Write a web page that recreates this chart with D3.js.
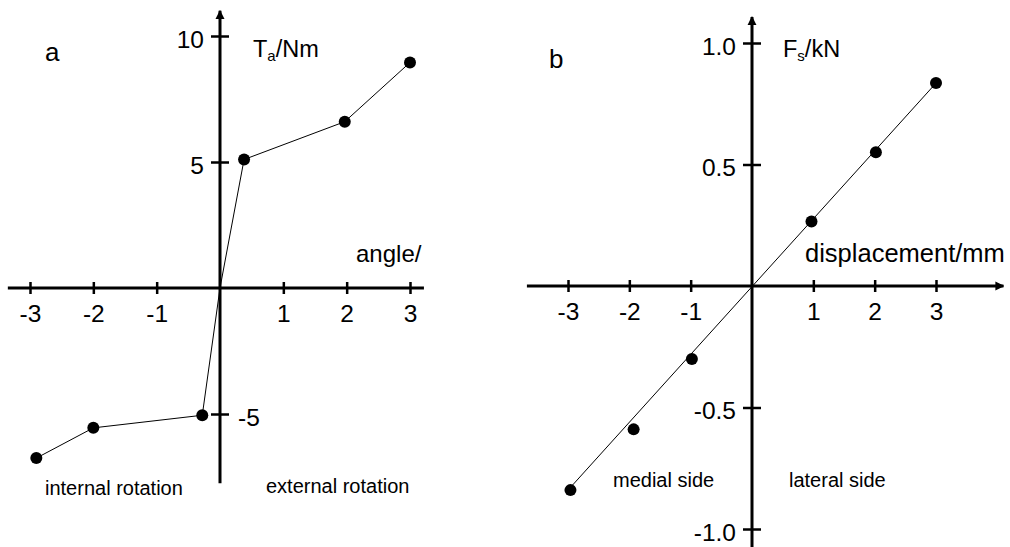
<!DOCTYPE html>
<html>
<head>
<meta charset="utf-8">
<script src="https://cdn.jsdelivr.net/npm/d3@7"></script>
<style>
  body { margin: 0; background: #fff; }
  text { font-family: "Liberation Sans", Arial, sans-serif; fill: #000; }
</style>
</head>
<body>
<svg id="chart" width="1010" height="547"></svg>
<script>
// panel a : torque vs angle
const angleVals = [-2.9, -2.0, -0.28, 0, 0.38, 1.97, 3.0];
const torqueVals = [-6.75, -5.55, -5.05, 0, 5.1, 6.6, 8.95];
const angleTicks = [-3, -2, -1, 1, 2, 3];
const torqueTicks = [10, 5, -5];

// panel b : force vs displacement
const dispVals = [-2.96, -1.93, -0.98, 0.97, 2.02, 3.0];
const forceVals = [-0.84, -0.59, -0.3, 0.265, 0.55, 0.835];
const fitDisp = [-3.0, 3.0];
const fitForce = [-0.84, 0.835];
const dispTicks = [-3, -2, -1, 1, 2, 3];
const forceTicks = [1.0, 0.5, -0.5, -1.0];

const svg = d3.select("#chart");

// plain hyphen instead of d3's unicode minus
const hy = f => d => f(d).replace("\u2212", "-");

svg.append("defs").append("marker")
  .attr("id", "arrow")
  .attr("viewBox", "0 0 10 10")
  .attr("refX", 9).attr("refY", 5)
  .attr("markerWidth", 3).attr("markerHeight", 3.4)
  .attr("markerUnits", "strokeWidth")
  .attr("orient", "auto")
  .append("path").attr("d", "M0,0 L10,5 L0,10 Z").attr("fill", "#000");

svg.select("defs").append("clipPath").attr("id", "clipA")
  .append("rect").attr("x", 0).attr("y", 0).attr("width", 422).attr("height", 547);

function drawPanel(opt) {
  const { x, y } = opt;
  const g = svg.append("g");

  // axes lines
  g.append("line")
    .attr("x1", x(opt.xExt[0])).attr("x2", x(opt.xExt[1]))
    .attr("y1", y(0)).attr("y2", y(0))
    .attr("stroke", "#000").attr("stroke-width", 3)
    .attr("marker-end", opt.xArrow ? "url(#arrow)" : null);
  g.append("line")
    .attr("x1", x(0)).attr("x2", x(0))
    .attr("y1", y(opt.yExt[0])).attr("y2", y(opt.yExt[1]))
    .attr("stroke", "#000").attr("stroke-width", 3)
    .attr("marker-end", "url(#arrow)");

  // x ticks
  const xAxis = d3.axisBottom(x).tickValues(opt.xTicks).tickFormat(hy(d3.format("d")));
  const xg = g.append("g").attr("transform", `translate(0,${y(0)})`).call(xAxis);
  xg.select(".domain").remove();
  xg.selectAll(".tick line").attr("y1", -6).attr("y2", 6).attr("stroke-width", 2.5);
  xg.selectAll(".tick text").attr("y", 34).attr("dy", null)
    .attr("font-size", 24.5).attr("font-family", null);

  // y ticks
  const yAxis = d3.axisLeft(y).tickValues(opt.yTicks).tickFormat(hy(opt.yFmt));
  const yg = g.append("g").attr("transform", `translate(${x(0)},0)`).call(yAxis);
  yg.select(".domain").remove();
  yg.selectAll(".tick line").attr("x1", -9).attr("x2", 9).attr("stroke-width", 2.5);
  yg.selectAll(".tick text")
    .attr("x", d => opt.rightLabel && d < 0 ? 18 : -16)
    .attr("text-anchor", d => opt.rightLabel && d < 0 ? "start" : "end")
    .attr("dy", null).attr("y", 11)
    .attr("font-size", 24.5).attr("font-family", null);

  // data line
  const line = d3.line().x(d => x(d[0])).y(d => y(d[1]));
  g.append("path")
    .datum(d3.zip(opt.lineX, opt.lineY))
    .attr("d", line)
    .attr("fill", "none").attr("stroke", "#000").attr("stroke-width", 1);

  g.selectAll("circle.pt")
    .data(d3.zip(opt.ptX, opt.ptY).filter(d => !(d[0] === 0 && d[1] === 0)))
    .enter().append("circle")
    .attr("class", "pt")
    .attr("cx", d => x(d[0])).attr("cy", d => y(d[1]))
    .attr("r", 6).attr("fill", "#000");

  return g;
}

// panel a
const xA = d3.scaleLinear().domain([-3, 3]).range([30, 410]);
const yA = d3.scaleLinear().domain([-5, 10]).range([414, 36]);
const gA = drawPanel({
  x: xA, y: yA,
  xExt: [-3.35, 3.22], yExt: [-7.75, 11.0], xArrow: false,
  xTicks: angleTicks, yTicks: torqueTicks, yFmt: d3.format("d"), rightLabel: true,
  lineX: angleVals, lineY: torqueVals, ptX: angleVals, ptY: torqueVals
});
gA.append("text").attr("x", 45).attr("y", 61).attr("font-size", 26).text("a");
const tA = gA.append("text").attr("x", 253).attr("y", 57).attr("font-size", 23.5);
tA.append("tspan").text("T");
tA.append("tspan").attr("font-size", 15).attr("dy", 4).text("a");
tA.append("tspan").attr("dy", -4).text("/Nm");
gA.append("text").attr("x", 356).attr("y", 262).attr("font-size", 24)
  .attr("clip-path", "url(#clipA)").text("angle/°");
gA.append("text").attr("x", 45).attr("y", 495).attr("font-size", 20).text("internal rotation");
gA.append("text").attr("x", 266).attr("y", 493).attr("font-size", 20).text("external rotation");

// panel b
const xB = d3.scaleLinear().domain([-3, 3]).range([568, 936]);
const yB = d3.scaleLinear().domain([-1, 1]).range([529, 43]);
const gB = drawPanel({
  x: xB, y: yB,
  xExt: [-3.67, 4.1], yExt: [-1.1, 1.107], xArrow: true,
  xTicks: dispTicks, yTicks: forceTicks, yFmt: d3.format(".1f"), rightLabel: false,
  lineX: fitDisp, lineY: fitForce, ptX: dispVals, ptY: forceVals
});
gB.append("text").attr("x", 549).attr("y", 68).attr("font-size", 26).text("b");
const tB = gB.append("text").attr("x", 783).attr("y", 57).attr("font-size", 23.5);
tB.append("tspan").text("F");
tB.append("tspan").attr("font-size", 15).attr("dy", 4).text("s");
tB.append("tspan").attr("dy", -4).text("/kN");
gB.append("text").attr("x", 805).attr("y", 262).attr("font-size", 25.5).text("displacement/mm");
gB.append("text").attr("x", 613).attr("y", 487).attr("font-size", 20).text("medial side");
gB.append("text").attr("x", 789).attr("y", 487).attr("font-size", 20).text("lateral side");
</script>
</body>
</html>
